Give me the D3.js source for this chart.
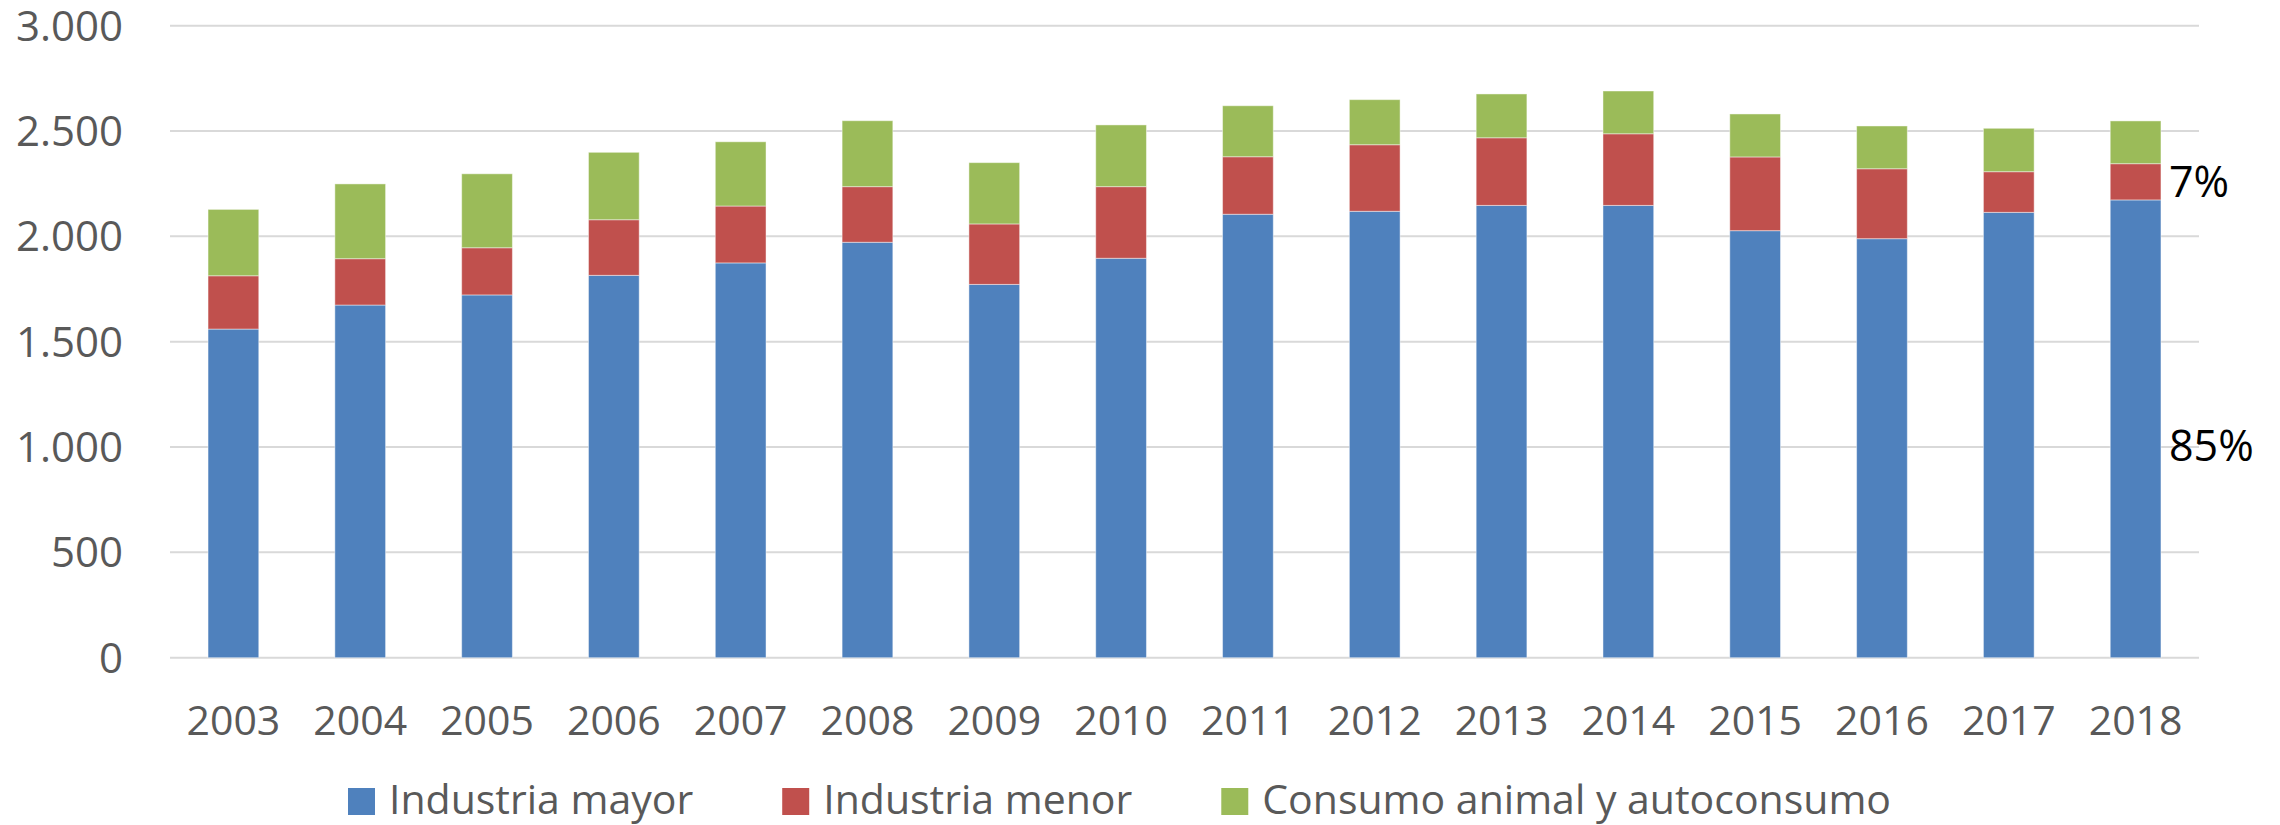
<!DOCTYPE html>
<html>
<head>
<meta charset="utf-8">
<script src="https://cdn.jsdelivr.net/npm/d3@7"></script>
<style>
html,body{margin:0;padding:0;background:#fff;}
svg{display:block;}
</style>
</head>
<body>
<svg id="chart" width="2280" height="825"></svg>
<script>
const years = ["2003","2004","2005","2006","2007","2008","2009","2010","2011","2012","2013","2014","2015","2016","2017","2018"];
const seriesNames = ["Industria mayor","Industria menor","Consumo animal y autoconsumo"];
const industriaMayor = [1560,1674,1722,1815,1874,1972,1772,1896,2105,2119,2147,2147,2027,1989,2114,2173];
const industriaMenor = [253,220,224,264,270,264,287,340,273,316,321,340,350,332,193,172];
const consumoAnimal = [315,355,351,320,305,313,291,293,242,214,208,203,204,203,206,203];
const yTicks = [0,500,1000,1500,2000,2500,3000];
const shareLabels = [{text:"85%", series:0}, {text:"7%", series:1}];
const colors = ["#4F81BD","#C0504D","#9BBB59"];

(function(){
const svg = d3.select("#chart");
const font = "'Open Sans', 'Noto Sans', sans-serif";
const mLeft = 170, mRight = 2199, mTop = 25.7, mBottom = 657.7;

const x = d3.scaleBand().domain(years).range([mLeft, mRight]).padding(0);
const y = d3.scaleLinear().domain([0, 3000]).range([mBottom, mTop]);
const barW = x.bandwidth() * 0.4;

// gridlines
svg.append("g").selectAll("line").data(yTicks).join("line")
  .attr("x1", mLeft).attr("x2", mRight)
  .attr("y1", d => y(d)).attr("y2", d => y(d))
  .attr("stroke", "#d9d9d9").attr("stroke-width", 2);

// y axis labels
const fmt = d3.formatLocale({decimal:",", thousands:".", grouping:[3], currency:["",""]}).format(",");
svg.append("g").selectAll("text").data(yTicks).join("text")
  .attr("x", 123).attr("y", d => y(d))
  .attr("dy", "0.36em")
  .attr("text-anchor", "end")
  .attr("font-family", font).attr("font-size", 42).attr("fill", "#595959")
  .text(d => fmt(d));

// stacked data
const table = years.map((yr, i) => ({year: yr, s0: industriaMayor[i], s1: industriaMenor[i], s2: consumoAnimal[i]}));
const stack = d3.stack().keys(["s0","s1","s2"])(table);

svg.append("g").selectAll("g").data(stack).join("g")
  .attr("fill", (d, i) => colors[i])
  .selectAll("rect").data(d => d).join("rect")
  .attr("x", d => x(d.data.year) + (x.bandwidth() - barW) / 2)
  .attr("width", barW)
  .attr("y", d => y(d[1]))
  .attr("height", d => y(d[0]) - y(d[1]))
  .attr("stroke", "rgba(255,255,255,0.45)").attr("stroke-width", 1);

// x axis labels
svg.append("g").selectAll("text").data(years).join("text")
  .attr("x", d => x(d) + x.bandwidth() / 2)
  .attr("y", 735)
  .attr("text-anchor", "middle")
  .attr("font-family", font).attr("font-size", 41).attr("fill", "#595959")
  .text(d => d);

// share labels next to last bar
const last = years.length - 1;
svg.append("g").selectAll("text").data(shareLabels).join("text")
  .attr("x", x(years[last]) + (x.bandwidth() + barW) / 2 + 8)
  .attr("y", d => {
    const seg = stack[d.series][last];
    return d.series === 0 ? y(1000) + 14 : (y(seg[0]) + y(seg[1])) / 2 + 15;
  })
  .attr("font-family", font).attr("font-size", 43).attr("fill", "#000")
  .text(d => d.text);

// legend
const legend = svg.append("g");
let lx = 348;
seriesNames.forEach((name, i) => {
  const g = legend.append("g");
  g.append("rect").attr("x", lx).attr("y", 788).attr("width", 27).attr("height", 27).attr("fill", colors[i]);
  const t = g.append("text").attr("x", lx + 41).attr("y", 814)
    .attr("font-family", font).attr("font-size", 41).attr("fill", "#595959").text(name);
  lx += 41 + t.node().getComputedTextLength() + 89;
});
})();
</script>
</body>
</html>
